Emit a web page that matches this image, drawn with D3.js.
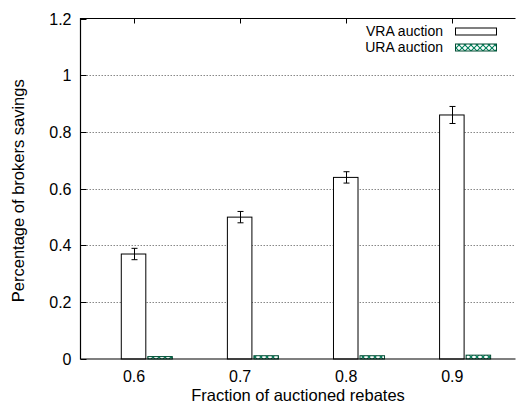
<!DOCTYPE html>
<html><head><meta charset="utf-8">
<script src="https://cdn.jsdelivr.net/npm/d3@7"></script>
<style>body{margin:0;background:#fff}svg{display:block}text{font-family:"Liberation Sans",Arial,sans-serif}</style>
</head><body>
<script>
const categories = ["0.6","0.7","0.8","0.9"];
const vraValues = [0.37, 0.50, 0.64, 0.86];
const vraErrors = [0.02, 0.02, 0.02, 0.03];
const uraValues = [0.005, 0.008, 0.008, 0.010];
const yTicks = [0, 0.2, 0.4, 0.6, 0.8, 1, 1.2];
const seriesNames = ["VRA auction", "URA auction"];

const W = 516, H = 408;
const L = 80.5, R = 515.5, T = 18.5, B = 359;
const svg = d3.select("body").append("svg").attr("width", W).attr("height", H);

const defs = svg.append("defs");
const pat = defs.append("pattern").attr("id","hatch").attr("patternUnits","userSpaceOnUse")
  .attr("width",6).attr("height",6);
pat.append("rect").attr("width",6).attr("height",6).attr("fill","#fff");
pat.append("path").attr("d","M0,0L6,6M6,0L0,6").attr("stroke","#00805a").attr("stroke-width",1.1);

const x = d3.scaleLinear().domain([-0.5, 3.6]).range([L, R]);
const y = d3.scaleLinear().domain([0, 1.2]).range([B, T]);
const bw = 24.5 / 106;
const gap = 2 / 106;

svg.append("g").selectAll("line").data(yTicks.filter(t => t > 0 && t < 1.2)).join("line")
  .attr("x1", L).attr("x2", R).attr("y1", d => Math.round(y(d)) + 0.5).attr("y2", d => Math.round(y(d)) + 0.5)
  .attr("stroke", "#888").attr("stroke-width", 1).attr("stroke-dasharray", "1.5,1.5");

svg.append("g").selectAll("rect").data(vraValues).join("rect")
  .attr("x", (d, i) => x(i - bw / 2))
  .attr("width", x(bw) - x(0))
  .attr("y", d => y(d))
  .attr("height", d => B - y(d))
  .attr("fill", "#fff").attr("stroke", "#000").attr("stroke-width", 1);

svg.append("g").selectAll("rect").data(uraValues).join("rect")
  .attr("x", (d, i) => x(i + bw / 2 + gap))
  .attr("width", x(bw) - x(0))
  .attr("y", d => y(d) - 1)
  .attr("height", d => B - y(d) + 1)
  .attr("fill", "url(#hatch)").attr("stroke", "#004d33").attr("stroke-width", 1);

const eg = svg.append("g").attr("stroke", "#000").attr("stroke-width", 1);
vraValues.forEach((v, i) => {
  const cx = Math.round(x(i)) + 0.5;
  const e = vraErrors[i];
  eg.append("line").attr("x1", cx).attr("x2", cx).attr("y1", y(v + e)).attr("y2", y(v - e));
  eg.append("line").attr("x1", cx - 3).attr("x2", cx + 3).attr("y1", y(v + e)).attr("y2", y(v + e));
  eg.append("line").attr("x1", cx - 3).attr("x2", cx + 3).attr("y1", y(v - e)).attr("y2", y(v - e));
});

const fr = svg.append("g").attr("stroke", "#000").attr("stroke-width", 1.2).attr("fill", "none");
fr.append("path").attr("d", `M${R},${T}H${L}V${B}H${R}`);

const yAxis = d3.axisLeft(y).tickValues(yTicks).tickSize(-6).tickPadding(9)
  .tickFormat(d => d3.format("")(d));
const ya = svg.append("g").attr("transform", `translate(${L},0)`).call(yAxis);
ya.select(".domain").remove();
ya.selectAll("line").attr("stroke", "#000");
ya.selectAll("text").attr("font-size", 16).attr("fill", "#000").attr("x", -9);
ya.selectAll(".tick").attr("transform", d => `translate(0,${Math.round(y(d)) + 0.5})`);

const xAxis = d3.axisBottom(x).tickValues([0, 1, 2, 3]).tickSize(0).tickPadding(12)
  .tickFormat(i => categories[i]);
const xa = svg.append("g").attr("transform", `translate(0,${B})`).call(xAxis);
xa.select(".domain").remove();
xa.selectAll("text").attr("font-size", 16).attr("fill", "#000");

svg.append("g").selectAll("line").data([0, 1, 2, 3]).join("line")
  .attr("x1", d => Math.round(x(d)) + 0.5).attr("x2", d => Math.round(x(d)) + 0.5)
  .attr("y1", T).attr("y2", T + 5).attr("stroke", "#000");

svg.append("text").attr("x", 298).attr("y", 401).attr("text-anchor", "middle")
  .attr("font-size", 16.5).text("Fraction of auctioned rebates");
svg.append("text").attr("transform", `translate(24,${(T + B) / 2 + 2}) rotate(-90)`)
  .attr("text-anchor", "middle").attr("font-size", 16.5).text("Percentage of brokers savings");

const lg = svg.append("g");
seriesNames.forEach((name, i) => {
  const ly = 31 + i * 16;
  lg.append("text").attr("x", 443).attr("y", ly + 5).attr("text-anchor", "end")
    .attr("font-size", 14).text(name);
  lg.append("rect").attr("x", 455.5).attr("y", ly - 3).attr("width", 41).attr("height", 7)
    .attr("fill", i === 0 ? "#fff" : "url(#hatch)").attr("stroke", i === 0 ? "#000" : "#004d33");
});
</script>
</body></html>
